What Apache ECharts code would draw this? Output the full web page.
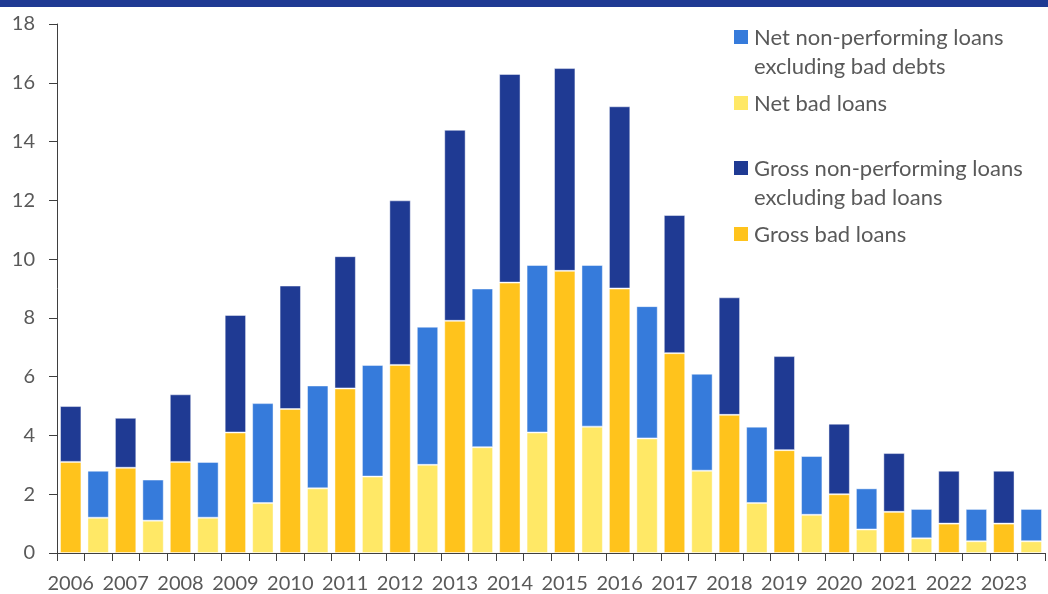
<!DOCTYPE html>
<html>
<head>
<meta charset="utf-8">
<script src="https://cdn.jsdelivr.net/npm/echarts@6/dist/echarts.min.js"></script>
<style>
  html, body { margin: 0; padding: 0; background: #ffffff; }
  #chart { width: 1048px; height: 594px; }
</style>
</head>
<body>
<div id="chart"></div>
<script>
// Years on the horizontal axis (each year has a gross bar followed by a net bar)
const years = ['2006','2007','2008','2009','2010','2011','2012','2013','2014','2015',
               '2016','2017','2018','2019','2020','2021','2022','2023'];

// Gross bar segments (per cent)
const grossBadLoans = [3.1, 2.9, 3.1, 4.1, 4.9, 5.6, 6.4, 7.9, 9.2, 9.6, 9.0, 6.8, 4.7, 3.5, 2.0, 1.4, 1.0, 1.0];
const grossNplExBad = [1.9, 1.7, 2.3, 4.0, 4.2, 4.5, 5.6, 6.5, 7.1, 6.9, 6.2, 4.7, 4.0, 3.2, 2.4, 2.0, 1.8, 1.8];

// Net bar segments (per cent)
const netBadLoans   = [1.2, 1.1, 1.2, 1.7, 2.2, 2.6, 3.0, 3.6, 4.1, 4.3, 3.9, 2.8, 1.7, 1.3, 0.8, 0.5, 0.4, 0.4];
const netNplExBad   = [1.6, 1.4, 1.9, 3.4, 3.5, 3.8, 4.7, 5.4, 5.7, 5.5, 4.5, 3.3, 2.6, 2.0, 1.4, 1.0, 1.1, 1.1];

// Y axis ticks
const yTicks = { min: 0, max: 18, interval: 2 };

// Legend labels
const legendNames = {
  netNpl: 'Net non-performing loans\nexcluding bad debts',
  netBad: 'Net bad loans',
  grossNpl: 'Gross non-performing loans\nexcluding bad loans',
  grossBad: 'Gross bad loans'
};

const colors = {
  grossNpl: '#1f3a93',
  grossBad: '#ffc31c',
  netNpl: '#367bdb',
  netBad: '#ffe866',
  text: '#595959',
  axis: '#3f3f3f'
};

// Two slots per year: gross first, then net
const categories = [];
years.forEach(y => { categories.push(y + ' gross'); categories.push(y + ' net'); });

function slot(values, isGross) {
  const out = [];
  values.forEach(v => {
    if (isGross) { out.push(v); out.push('-'); }
    else { out.push('-'); out.push(v); }
  });
  return out;
}

const FONT = 'Lato, "Open Sans", sans-serif';

function barSeries(name, data, color) {
  return {
    name: name,
    type: 'bar',
    stack: 'total',
    data: data,
    barCategoryGap: '22%',
    itemStyle: { color: color, borderColor: 'rgba(255,255,255,0.45)', borderWidth: 1 },
    emphasis: { disabled: true },
    animation: false
  };
}

// Legend entries drawn as swatch + text
const legendLayout = [
  { key: 'netNpl', top: 30 },
  { key: 'netBad', top: 96 },
  { key: 'grossNpl', top: 161 },
  { key: 'grossBad', top: 227 }
];
const legendGraphics = [];
legendLayout.forEach(item => {
  legendGraphics.push({
    type: 'rect', left: 734, top: item.top,
    shape: { width: 14, height: 14 },
    style: { fill: colors[item.key] }
  });
  legendGraphics.push({
    type: 'text', left: 754, top: item.top - 7,
    style: {
      text: legendNames[item.key],
      fill: colors.text,
      font: '22px ' + FONT,
      lineHeight: 29
    }
  });
});

const chart = echarts.init(document.getElementById('chart'), null, { renderer: 'canvas' });
chart.setOption({
  animation: false,
  textStyle: { fontFamily: FONT },
  grid: { left: 57, right: 3, top: 24, bottom: 41, containLabel: false },
  xAxis: {
    type: 'category',
    data: categories,
    axisLine: { show: true, lineStyle: { color: colors.axis, width: 1 } },
    axisTick: { show: true, interval: 0, length: 8, lineStyle: { color: colors.axis } },
    axisLabel: {
      interval: 1,
      margin: 21,
      color: colors.text,
      fontSize: 20,
      fontFamily: FONT,
      formatter: v => v.split(' ')[0]
    }
  },
  yAxis: {
    type: 'value',
    min: yTicks.min,
    max: yTicks.max,
    interval: yTicks.interval,
    splitLine: { show: false },
    axisLine: { show: true, lineStyle: { color: colors.axis, width: 1 } },
    axisTick: { show: true, length: 8, lineStyle: { color: colors.axis } },
    axisLabel: { margin: 22, color: colors.text, fontSize: 20, fontFamily: FONT }
  },
  series: [
    barSeries('Gross bad loans', slot(grossBadLoans, true), colors.grossBad),
    barSeries('Gross non-performing loans excluding bad loans', slot(grossNplExBad, true), colors.grossNpl),
    barSeries('Net bad loans', slot(netBadLoans, false), colors.netBad),
    barSeries('Net non-performing loans excluding bad debts', slot(netNplExBad, false), colors.netNpl)
  ],
  graphic: [
    { type: 'rect', left: 0, top: 0, shape: { width: 1048, height: 7 }, style: { fill: colors.grossNpl } }
  ].concat(legendGraphics)
});
</script>
</body>
</html>
